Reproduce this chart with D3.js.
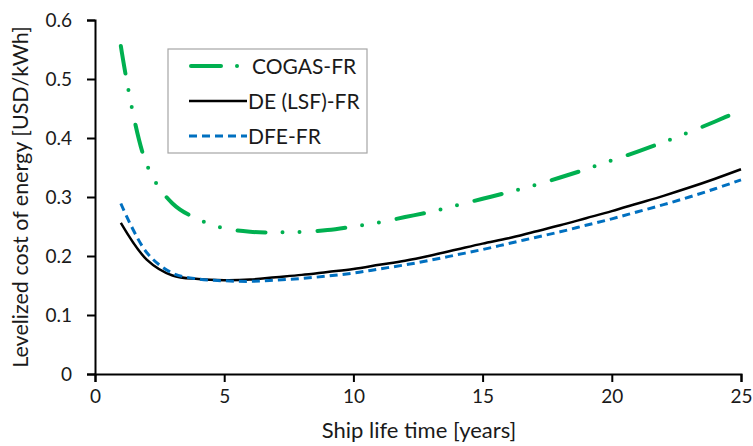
<!DOCTYPE html>
<html>
<head>
<meta charset="utf-8">
<script src="https://cdn.jsdelivr.net/npm/d3@7"></script>
<style>
  html, body { margin: 0; padding: 0; background: #fff; }
  svg { display: block; }
  text { font-family: Lato, "Open Sans", sans-serif; fill: #1a1a1a; }
</style>
</head>
<body>
<svg id="chart" width="753" height="446"></svg>
<script>
// Ship life time in years
const years = [1, 2, 3, 4, 5, 6, 7, 8, 9, 10, 11, 12, 13, 14, 15, 16, 17, 18, 19, 20, 21, 22, 23, 24, 25];

// Levelized cost of energy, USD/kWh
const cogasFR = [0.556, 0.355, 0.289, 0.262, 0.247, 0.241, 0.240, 0.241, 0.244, 0.250, 0.257, 0.266, 0.275, 0.286, 0.297, 0.308, 0.320, 0.333, 0.347, 0.362, 0.377, 0.393, 0.410, 0.428, 0.447];
const deLsfFR = [0.256, 0.194, 0.167, 0.161, 0.159, 0.160, 0.164, 0.168, 0.173, 0.178, 0.185, 0.192, 0.201, 0.211, 0.221, 0.230, 0.241, 0.252, 0.264, 0.276, 0.289, 0.302, 0.316, 0.331, 0.347];
const dfeFR   = [0.289, 0.206, 0.171, 0.161, 0.158, 0.157, 0.159, 0.162, 0.166, 0.171, 0.178, 0.185, 0.193, 0.202, 0.211, 0.221, 0.231, 0.241, 0.252, 0.263, 0.275, 0.287, 0.300, 0.314, 0.329];

const seriesNames = ["COGAS-FR", "DE (LSF)-FR", "DFE-FR"];
const xTicks = [0, 5, 10, 15, 20, 25];
const yTicks = [0, 0.1, 0.2, 0.3, 0.4, 0.5, 0.6];

const series = [
  { name: seriesNames[0], values: cogasFR, color: "#00B050", width: 4, dash: "28,17,0,17,0,18", cap: "round" },
  { name: seriesNames[1], values: deLsfFR, color: "#000000", width: 2.5, dash: null, cap: "butt" },
  { name: seriesNames[2], values: dfeFR, color: "#0070C0", width: 3, dash: "8,5", cap: "butt" }
];

const svg = d3.select("#chart");
const plotLeft = 95, plotRight = 741, plotTop = 20, plotBottom = 374;

const x = d3.scaleLinear().domain([0, 25]).range([plotLeft, plotRight]);
const y = d3.scaleLinear().domain([0, 0.6]).range([plotBottom, plotTop]);

// Axes
const xAxis = svg.append("g")
  .attr("transform", `translate(0,${plotBottom})`)
  .call(d3.axisBottom(x).tickValues(xTicks).tickSize(8).tickPadding(8).tickFormat(d3.format("d")));
const yAxis = svg.append("g")
  .attr("transform", `translate(${plotLeft},0)`)
  .call(d3.axisLeft(y).tickValues(yTicks).tickSize(8).tickPadding(15).tickFormat(d => d === 0 ? "0" : d3.format(".1f")(d)));

[xAxis, yAxis].forEach(g => {
  g.select(".domain").attr("stroke", "#000").attr("stroke-width", 2);
  g.selectAll(".tick line").attr("stroke", "#000").attr("stroke-width", 2);
  g.selectAll(".tick text").attr("font-size", 19).attr("font-family", "Lato, sans-serif").attr("fill", "#1a1a1a");
});

// Lines
const line = d3.line()
  .x((d, i) => x(years[i]))
  .y(d => y(d))
  .curve(d3.curveCatmullRom.alpha(0.5));

series.forEach(s => {
  svg.append("path")
    .datum(s.values)
    .attr("fill", "none")
    .attr("stroke", s.color)
    .attr("stroke-width", s.width)
    .attr("stroke-linecap", s.cap)
    .attr("stroke-linejoin", "round")
    .attr("stroke-dasharray", s.dash)
    .attr("d", line);
});

// Axis titles
svg.append("text")
  .attr("x", 419)
  .attr("y", 438)
  .attr("text-anchor", "middle")
  .attr("font-size", 22)
  .text("Ship life time [years]");

svg.append("text")
  .attr("transform", `translate(28,${(plotTop + plotBottom) / 2}) rotate(-90)`)
  .attr("text-anchor", "middle")
  .attr("font-size", 21.5)
  .text("Levelized cost of energy [USD/kWh]");

// Legend
const legend = svg.append("g").attr("transform", "translate(168,49)");
legend.append("rect")
  .attr("width", 199).attr("height", 104)
  .attr("fill", "#fff").attr("stroke", "#a6a6a6").attr("stroke-width", 1.2);

series.forEach((s, i) => {
  const ly = 17 + i * 35;
  const row = legend.append("g").attr("transform", `translate(0,${ly})`);
  if (s.dash && s.cap === "round") {
    row.append("line").attr("x1", 23).attr("x2", 53).attr("y1", 0).attr("y2", 0)
      .attr("stroke", s.color).attr("stroke-width", s.width).attr("stroke-linecap", "round");
    row.append("circle").attr("cx", 69).attr("cy", 0).attr("r", 2).attr("fill", s.color);
  } else {
    row.append("line").attr("x1", 21).attr("x2", 79).attr("y1", 0).attr("y2", 0)
      .attr("stroke", s.color).attr("stroke-width", s.width)
      .attr("stroke-dasharray", s.dash);
  }
  row.append("text")
    .attr("x", i === 0 ? 84 : 80).attr("y", 0)
    .attr("dy", "0.36em")
    .attr("font-size", 21)
    .text(s.name);
});
</script>
</body>
</html>
